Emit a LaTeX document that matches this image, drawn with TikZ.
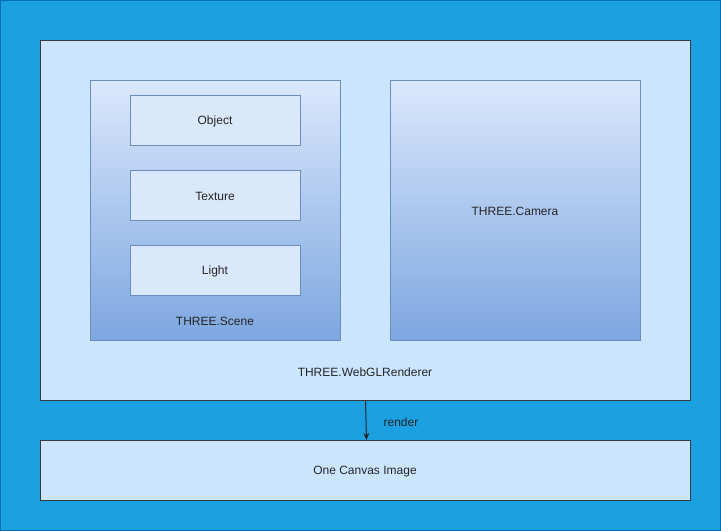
\documentclass[tikz,border=0pt]{standalone}
\usepackage{fontspec}
\setmainfont{Liberation Sans}
\usetikzlibrary{arrows.meta}
\definecolor{bgblue}{HTML}{1BA1E2}
\definecolor{bgstroke}{HTML}{006EAF}
\definecolor{lightfill}{HTML}{CCE5FF}
\definecolor{darkstroke}{HTML}{36393D}
\definecolor{itemfill}{HTML}{DAE8FC}
\definecolor{itemstroke}{HTML}{6C8EBF}
\definecolor{gradbot}{HTML}{7EA6E0}
\begin{document}
\begin{tikzpicture}[x=1pt,y=-1pt,
  panel/.style={draw=darkstroke,fill=lightfill,line width=1pt},
  group/.style={draw=itemstroke,top color=itemfill,bottom color=gradbot,line width=0.8pt},
  item/.style={draw=itemstroke,fill=itemfill,line width=0.8pt},
  lbl/.style={font=\fontsize{12}{14}\selectfont,text=black!85,yshift=-1.8pt}]
\useasboundingbox (0,0) rectangle (721,531);
\fill[bgblue,draw=bgstroke] (0.5,0.5) rectangle (720.5,530.5);
\draw[panel] (40,40) rectangle (690,400);
\draw[group] (90,80) rectangle (340,340);
\draw[group] (390,80) rectangle (640,340);
\draw[item] (130,95) rectangle (300,145);
\draw[item] (130,170) rectangle (300,220);
\draw[item] (130,245) rectangle (300,295);
\draw[panel] (40,440) rectangle (690,500);
\node[lbl] (obj) at (215,120) {Object};
\node[lbl] (tex) at (215,195) {Texture};
\node[lbl] (light) at (215,270) {Light};
\node[lbl] (scene) at (215,320) {THREE.Scene};
\node[lbl] (cam) at (515,210) {THREE.Camera};
\node[lbl] (rend) at (365,370) {THREE.WebGLRenderer};
\node[lbl] (canvas) at (365,470) {One Canvas Image};
\node[lbl] (renderlbl) at (401,420) {render};
\coordinate (a1) at (365.5,400);
\coordinate (a2) at (366.5,440);
\draw[line width=1pt,-{Stealth[length=7pt,width=6pt]},black!85] (a1) -- (a2);
\end{tikzpicture}
\end{document}
